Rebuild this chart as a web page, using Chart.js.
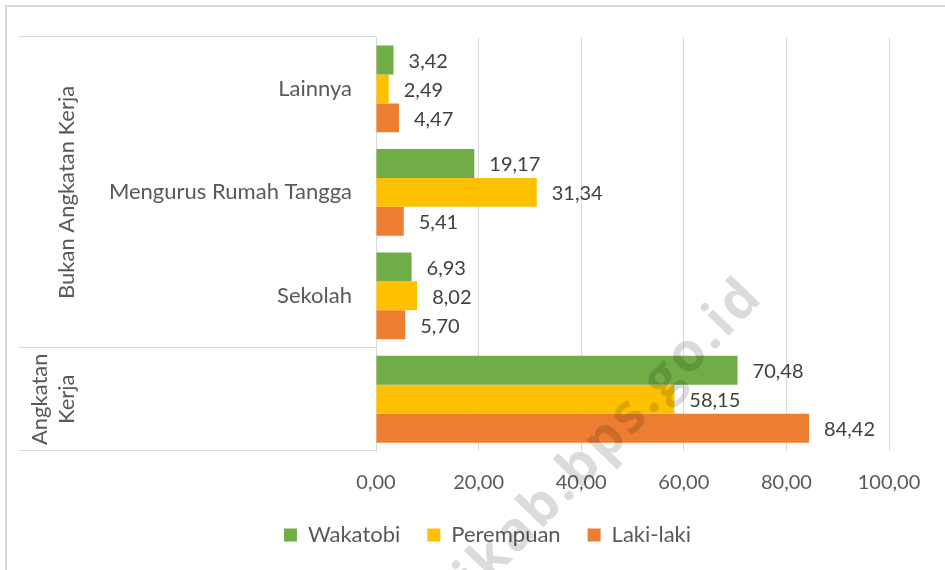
<!DOCTYPE html>
<html><head><meta charset="utf-8">
<script src="https://cdn.jsdelivr.net/npm/chart.js@4"></script>
<style>html,body{margin:0;padding:0;background:#fff}#wrap{width:945px;height:570px;position:relative}</style>
</head><body><div id="wrap"><canvas id="c" width="945" height="570"></canvas></div>
<script>
const categories = ['Lainnya', 'Mengurus Rumah Tangga', 'Sekolah', ''];
const groupLabels = [['Bukan Angkatan Kerja'], ['Angkatan', 'Kerja']];
const groupSpans = [3, 1];
const seriesNames = ['Wakatobi', 'Perempuan', 'Laki-laki'];
const wakatobi = [3.42, 19.17, 6.93, 70.48];
const perempuan = [2.49, 31.34, 8.02, 58.15];
const lakiLaki = [4.47, 5.41, 5.70, 84.42];
const xMin = 0, xMax = 100, xStep = 20;
const watermarkText = 'wakatobikab.bps.go.id';

const FONT = 'Lato, "Open Sans", sans-serif';
const colors = ['#70AD47', '#FFC000', '#ED7D31'];
const fmt = v => v.toFixed(2).replace('.', ',');

const decor = {
  id: 'decor',
  afterLayout(chart) {
    const lg = chart.legend;
    if (lg) { lg.left += 43; lg.right += 43; }
  },
  beforeDraw(chart) {
    const ctx = chart.ctx;
    ctx.save();
    ctx.strokeStyle = '#D9D9D9';
    ctx.lineWidth = 2;
    ctx.beginPath();
    ctx.moveTo(6, 570); ctx.lineTo(6, 6); ctx.lineTo(945, 6);
    ctx.stroke();
    ctx.restore();
  },
  afterDatasetsDraw(chart) {
    const ctx = chart.ctx;
    const ca = chart.chartArea;
    const y = chart.scales.y;
    // data labels
    ctx.save();
    ctx.font = '20px ' + FONT;
    ctx.fillStyle = '#404040';
    ctx.textAlign = 'left';
    ctx.textBaseline = 'middle';
    chart.data.datasets.forEach((ds, di) => {
      chart.getDatasetMeta(di).data.forEach((bar, i) => {
        ctx.fillText(fmt(ds.data[i]), bar.x + 15, bar.y + 1.5);
      });
    });
    ctx.restore();
    // group frame
    ctx.save();
    ctx.strokeStyle = '#D9D9D9';
    ctx.lineWidth = 1;
    const x0 = 19, x1 = ca.left;
    let idx = 0;
    const bounds = [ca.top];
    groupSpans.forEach(sp => {
      idx += sp;
      const b = idx >= categories.length ? ca.bottom
        : (y.getPixelForValue(idx - 1) + y.getPixelForValue(idx)) / 2;
      bounds.push(b);
    });
    ctx.beginPath();
    bounds.forEach(b => {
      const yy = Math.round(b) - 0.5;
      ctx.moveTo(x0, yy); ctx.lineTo(x1, yy);
    });
    ctx.stroke();
    // group labels (rotated)
    ctx.font = '22px ' + FONT;
    ctx.fillStyle = '#595959';
    ctx.textAlign = 'center';
    ctx.textBaseline = 'middle';
    groupLabels.forEach((lines, g) => {
      const cy = (bounds[g] + bounds[g + 1]) / 2;
      lines.forEach((ln, k) => {
        const cx = 67 - 27 * (lines.length - 1 - k);
        ctx.save();
        ctx.translate(cx, cy);
        ctx.rotate(-Math.PI / 2);
        ctx.fillText(ln, 0, 0);
        ctx.restore();
      });
    });
    ctx.restore();
  },
  afterDraw(chart) {
    const ctx = chart.ctx;
    ctx.save();
    ctx.translate(765, 298);
    ctx.rotate(-46 * Math.PI / 180);
    ctx.font = 'bold 54px "Open Sans", sans-serif';
    try { ctx.letterSpacing = '3px'; } catch (e) {}
    ctx.fillStyle = 'rgba(0,0,0,0.14)';
    ctx.textAlign = 'right';
    ctx.textBaseline = 'alphabetic';
    ctx.fillText(watermarkText, 0, 0);
    ctx.restore();
  }
};

new Chart(document.getElementById('c'), {
  type: 'bar',
  data: {
    labels: categories,
    datasets: [
      { label: seriesNames[0], data: wakatobi, backgroundColor: colors[0] },
      { label: seriesNames[1], data: perempuan, backgroundColor: colors[1] },
      { label: seriesNames[2], data: lakiLaki, backgroundColor: colors[2] }
    ]
  },
  options: {
    indexAxis: 'y',
    responsive: false,
    animation: false,
    devicePixelRatio: 1,
    layout: { padding: { top: 36, right: 56, left: 0, bottom: 14 } },
    datasets: { bar: { barPercentage: 1, categoryPercentage: 0.84, borderWidth: 0 } },
    plugins: {
      legend: {
        position: 'bottom',
        labels: { boxWidth: 13, boxHeight: 13, padding: 27, color: '#595959', font: { family: FONT, size: 22 } }
      },
      tooltip: { enabled: false }
    },
    scales: {
      x: {
        min: xMin, max: xMax,
        ticks: { stepSize: xStep, callback: v => fmt(v), color: '#595959', padding: 20, font: { family: FONT, size: 20 } },
        grid: { color: '#D9D9D9', drawTicks: false },
        border: { display: false },
        afterFit: s => { s.height = 46; }
      },
      y: {
        ticks: { color: '#595959', padding: 24, font: { family: FONT, size: 22 } },
        grid: { display: false, drawTicks: false },
        border: { display: true, color: '#D9D9D9' },
        afterFit: s => { s.width = 376; }
      }
    }
  },
  plugins: [decor]
});
</script></body></html>
